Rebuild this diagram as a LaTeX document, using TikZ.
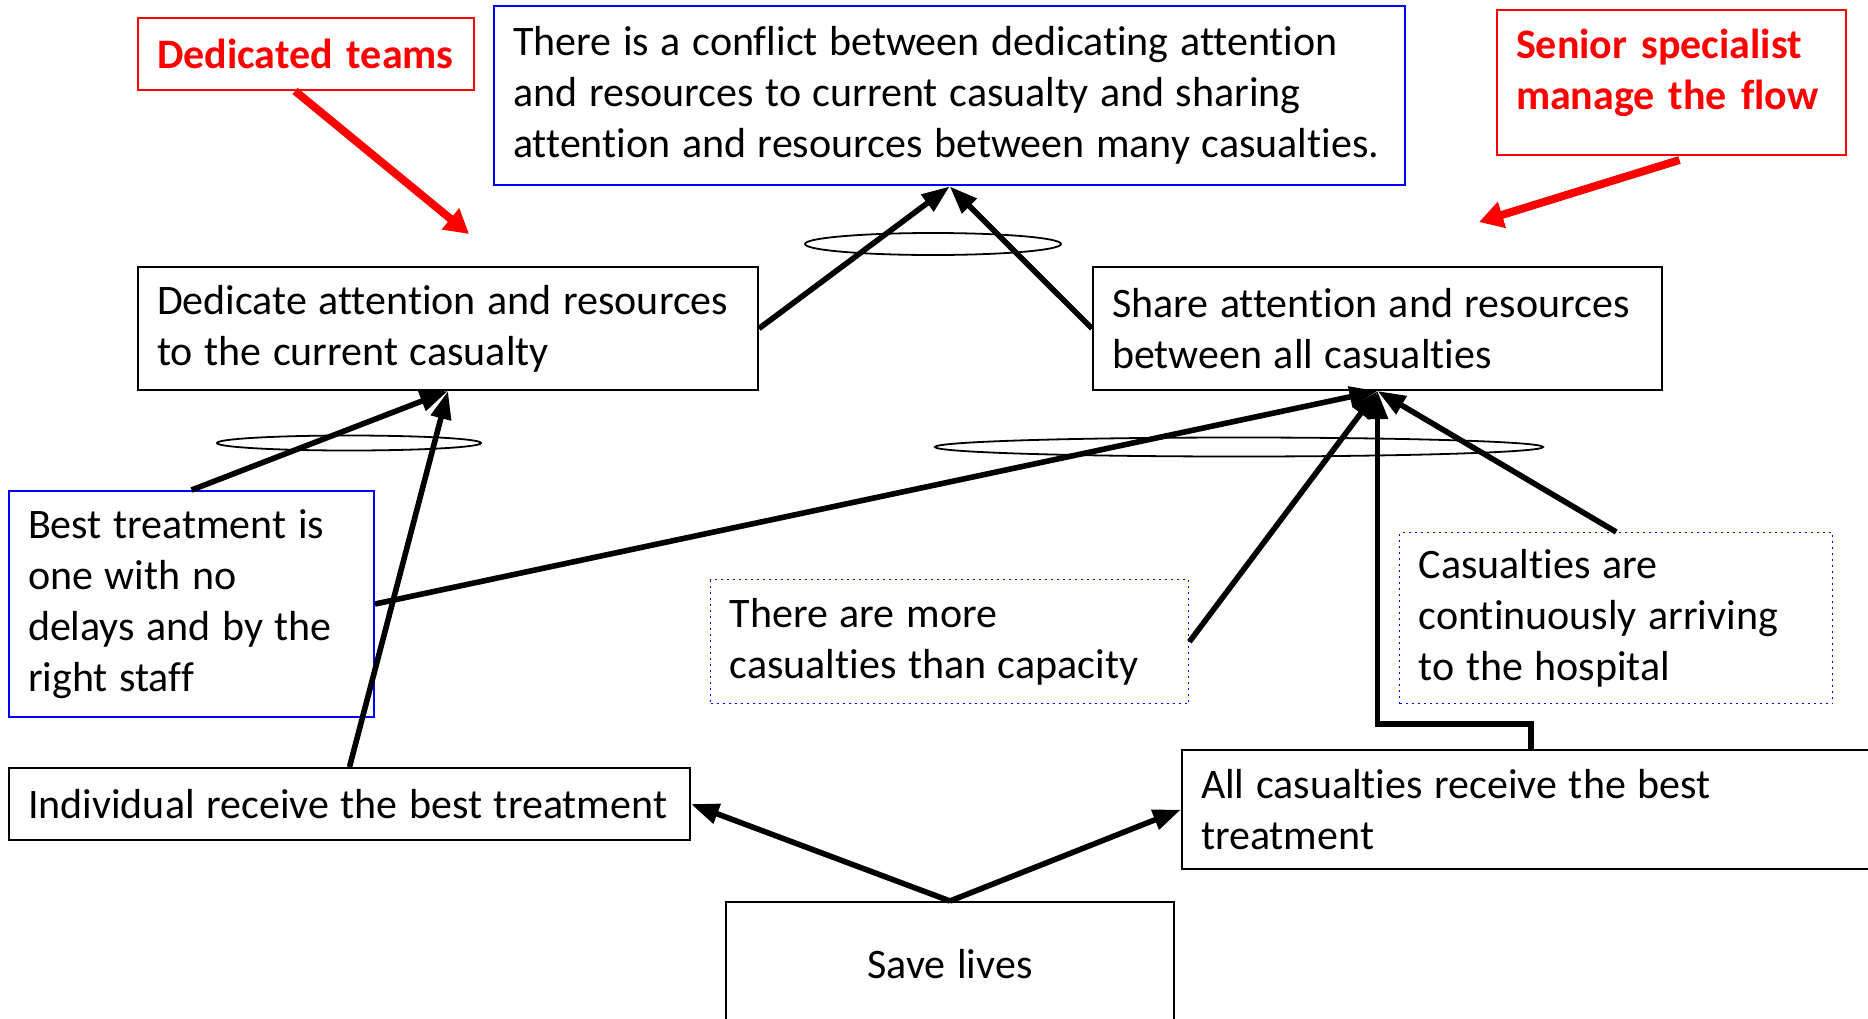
\documentclass[tikz,border=0pt]{standalone}
\usepackage{fontspec}
\setmainfont{Carlito}[Ligatures=NoCommon]
\usetikzlibrary{arrows.meta}
\newcommand{\tline}[1]{\mbox{#1}}
\begin{document}
\begin{tikzpicture}[x=0.5pt,y=-0.5pt,
  box/.style={draw, line width=1pt, anchor=north west, align=left, inner xsep=9.5pt, inner ysep=0pt,
    font=\fontsize{21}{25.5}\selectfont, execute at begin node={\spaceskip=5.8pt\relax}},
  bluebox/.style={box, draw=blue},
  dotbox/.style={box, draw=blue, dotted, line width=0.7pt},
  redbox/.style={draw, line width=1pt, anchor=north west, align=left, inner xsep=9.5pt, inner ysep=0pt,
    draw=red, text=red, font=\fontsize{21}{25.5}\selectfont\bfseries},
  conn/.style={line width=2.8pt, -{Triangle[length=14pt,width=10pt]}},
  redconn/.style={draw=red, line width=4pt, -{Triangle[length=12pt,width=13pt]}},
  loopring/.style={line width=0.9pt}
]
\useasboundingbox (0,0) rectangle (1868,1018);
\clip (0,0) rectangle (1868,1018);

% ellipses
\draw[loopring] (933,244) ellipse [x radius=128, y radius=11];
\draw[loopring] (349,443) ellipse [x radius=132, y radius=7.5];
\draw[loopring] (1239,447) ellipse [x radius=304, y radius=9.5];

% boxes
\node[redbox, minimum width=168pt, minimum height=36pt, text width=149pt] (dt) at (137,17) {\tline{Dedicated teams}};
\node[bluebox, line width=1.2pt, minimum width=455.5pt, minimum height=89.5pt, text width=436.5pt] (conflict) at (493,5)
  {\tline{There is a conflict between dedicating attention}\\\tline{and resources to current casualty and sharing}\\\tline{attention and resources between many casualties.}};
\node[redbox, minimum width=174.5pt, minimum height=72.5pt, text width=155.5pt] (senior) at (1496,9)
  {\tline{Senior specialist}\\\tline{manage the flow}\rule[-13pt]{0pt}{13pt}};
\node[box, minimum width=310pt, minimum height=61.5pt, text width=291pt] (ded) at (137,266)
  {\tline{Dedicate attention and resources}\\\tline{to the current casualty}};
\node[box, minimum width=284.5pt, minimum height=61.5pt, text width=265.5pt] (share) at (1092,266)
  {\tline{Share attention and resources}\\\tline{between all casualties}};
\node[bluebox, minimum width=182.5pt, minimum height=113pt, text width=163.5pt] (best) at (8,490)
  {\tline{Best treatment is}\\\tline{one with no}\\\tline{delays and by the}\\\tline{right staff}};
\node[dotbox, minimum width=239pt, minimum height=62pt, text width=220pt] (more) at (710,579)
  {\tline{There are more}\\\tline{casualties than capacity}};
\node[dotbox, minimum width=216.5pt, minimum height=85.5pt, text width=197.5pt] (cas) at (1399,532)
  {\tline{Casualties are}\\\tline{continuously arriving}\\\tline{to the hospital}};
\node[box, minimum width=340.5pt, minimum height=36pt, text width=321.5pt] (indiv) at (8,767)
  {\tline{Individual receive the best treatment}};
\node[box, minimum width=349pt, minimum height=59.5pt, text width=330pt] (all) at (1181,749)
  {\tline{All casualties receive the best}\\\tline{treatment}};
\node[box, align=center, minimum width=224pt, minimum height=62pt, text width=205pt] (save) at (725,901)
  {Save lives};

% free ends of the red arrows
\coordinate (dtTip) at (469,234);
\coordinate (seTip) at (1479,222);

% connectors
\draw[conn] (ded.east) -- (conflict.south);
\draw[conn] (share.west) -- (conflict.south);
\draw[conn] (best.north) -- (ded.south);
\draw[conn] (indiv.north) -- (ded.south);
\draw[conn] (best.east) -- (share.south);
\draw[conn] (more.east) -- (share.south);
\draw[conn] (cas.north) -- (share.south);
\draw[conn] (all.north) -- ++(0,-25) -| (share.south);
\draw[conn] (save.north) -- (indiv.east);
\draw[conn] (save.north) -- (all.west);

\draw[redconn] ([xshift=-5.5pt]dt.south) -- (dtTip);
\draw[redconn] ([xshift=4pt,yshift=-2pt]senior.south) -- (seTip);
\end{tikzpicture}
\end{document}
